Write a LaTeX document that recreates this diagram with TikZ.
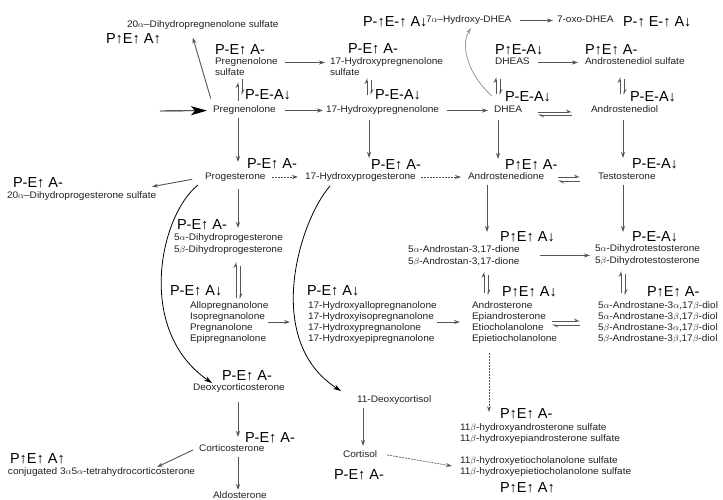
\documentclass[tikz,border=0pt]{standalone}
\usepackage{fontspec}
\setmainfont{Liberation Sans}
\newfontfamily\cmpff[FakeStretch=1.06]{Liberation Sans}
\newfontfamily\labff{Liberation Sans}
\usetikzlibrary{arrows.meta}
\definecolor{txt}{HTML}{222222}
\definecolor{arr}{HTML}{555555}
\definecolor{lightarr}{HTML}{999999}
\newcommand\al{$\alpha$}
\newcommand\be{$\beta$}
\tikzset{
  cmp/.style={font=\cmpff\fontsize{9.5}{11}\selectfont, text=txt, inner sep=0pt, outer sep=0pt, anchor=base west, align=left},
  lab/.style={font=\labff\fontsize{14.5}{16}\selectfont, inner sep=0pt, outer sep=0pt, anchor=base west},
  ar/.style={draw=arr, line width=0.9pt, -{Stealth[length=6pt,width=4pt]}},
  dar/.style={draw=arr, line width=0.7pt, dash pattern=on 2pt off 1pt, -{Stealth[open,length=6pt,width=4pt]}},
  hp/.style={draw=arr, line width=0.8pt, -{Stealth[harpoon,length=5pt,width=5pt]}},
  curv/.style={draw=black, line width=0.8pt, -{Stealth[length=8pt,width=5pt]}},
  bigar/.style={draw=black, line width=0.9pt, -{Stealth[length=16pt,width=9pt,inset=4pt]}},
}
\begin{document}
\begin{tikzpicture}[x=1pt,y=-1pt]
\fill[white] (0,0) rectangle (723,500);
\path[use as bounding box] (0,0) rectangle (723,500);

% multi-line nodes: the base anchor is the baseline of the LAST line
% ---- row 0
\node[cmp] (dhpregs) at (127,28) {20\al–Dihydropregnenolone sulfate};
\node[lab] (Ldhpregs) at (106,44) {P↑E↑ A↑};
\node[lab] (L7oh) at (363,27) {P-↑E-↑ A↓};
\node[cmp] (ohdhea) at (426,23) {7\al–Hydroxy-DHEA};
\node[cmp] (oxo) at (557,23) {7-oxo-DHEA};
\node[lab] (Loxo) at (623,27) {P-↑ E-↑ A↓};
% ---- row 1
\node[lab] (Lpregs) at (215,55) {P-E↑ A-};
\node[cmp] (pregs) at (215,76) {Pregnenolone\\sulfate};
\node[lab] (Lohpregs) at (348,54) {P-E↑ A-};
\node[cmp] (ohpregs) at (330,76) {17-Hydroxypregnenolone\\sulfate};
\node[lab] (Ldheas) at (495,55) {P↑E-A↓};
\node[cmp] (dheas) at (495,65) {DHEAS};
\node[lab] (Ladiols) at (585,55) {P↑E↑ A-};
\node[cmp] (adiols) at (585,65) {Androstenediol sulfate};
% ---- row 2
\node[cmp] (preg) at (213,113) {Pregnenolone};
\node[lab] (Lpreg) at (245,100) {P-E-A↓};
\node[cmp] (ohpreg) at (326,113) {17-Hydroxypregnenolone};
\node[lab] (Lohpreg) at (375,100) {P-E-A↓};
\node[cmp] (dhea) at (494,113) {DHEA};
\node[lab] (Ldhea) at (505,102) {P-E-A↓};
\node[cmp] (adiol) at (591,113) {Androstenediol};
\node[lab] (Ladiol) at (630,102) {P-E-A↓};
% ---- row 3
\node[cmp] (prog) at (205,179) {Progesterone};
\node[lab] (Lprog) at (247,168) {P-E↑ A-};
\node[cmp] (ohprog) at (305,179) {17-Hydroxyprogesterone};
\node[lab] (Lohprog) at (371,169) {P-E↑ A-};
\node[cmp] (andro) at (468,179) {Androstenedione};
\node[lab] (Landro) at (505,170) {P↑E↑ A-};
\node[cmp] (testo) at (598,179) {Testosterone};
\node[lab] (Ltesto) at (632,168) {P-E-A↓};
\node[lab] (Ldhprogs) at (13,187) {P-E↑ A-};
\node[cmp] (dhprogs) at (7,198) {20\al–Dihydroprogesterone sulfate};
% ---- row 4
\node[lab] (Ldhp) at (177,229) {P-E↑ A-};
\node[cmp] (dhp) at (174,252) {5\al-Dihydroprogesterone\\[1pt]5\be-Dihydroprogesterone};
\node[lab] (Ladione) at (500,241) {P↑E↑ A↓};
\node[cmp] (adione) at (408,264) {5\al-Androstan-3,17-dione\\[1pt]5\be-Androstan-3,17-dione};
\node[lab] (Ldht) at (632,241) {P-E-A↓};
\node[cmp] (dht) at (595,263) {5\al-Dihydrotestosterone\\[1pt]5\be-Dihydrotestosterone};
% ---- row 5
\node[lab] (Lallo) at (170,295) {P-E↑ A↓};
\node[cmp] (allo) at (190,341) {Allopregnanolone\\Isopregnanolone\\Pregnanolone\\Epipregnanolone};
\node[lab] (Lohallo) at (307,295) {P-E↑ A↓};
\node[cmp] (ohallo) at (308,341) {17-Hydroxyallopregnanolone\\17-Hydroxyisopregnanolone\\17-Hydroxypregnanolone\\17-Hydroxyepipregnanolone};
\node[lab] (Last) at (502,296) {P↑E↑ A↓};
\node[cmp] (ast) at (472,341) {Androsterone\\Epiandrosterone\\Etiocholanolone\\Epietiocholanolone};
\node[lab] (Ldiol) at (647,296) {P↑E↑ A-};
\node[cmp] (diol) at (598,341) {5\al-Androstane-3\al,17\be-diol\\5\al-Androstane-3\be,17\be-diol\\5\be-Androstane-3\al,17\be-diol\\5\be-Androstane-3\be,17\be-diol};
% ---- row 6
\node[lab] (Ldoc) at (222,380) {P-E↑ A-};
\node[cmp] (doc) at (193,390) {Deoxycorticosterone};
\node[cmp] (ohdoc) at (357,402) {11-Deoxycortisol};
\node[cmp] (cort) at (199,451) {Corticosterone};
\node[lab] (Lcort) at (245,442) {P-E↑ A-};
\node[lab] (Lconj) at (10,463) {P↑E↑ A↑};
\node[cmp] (conj) at (8,474) {conjugated 3\al5\al-tetrahydrocorticosterone};
\node[cmp] (aldo) at (213,498) {Aldosterone};
\node[cmp] (cortisol) at (343,457) {Cortisol};
\node[lab] (Lcortisol) at (334,479) {P-E↑ A-};
\node[lab] (Ls11a) at (500,418) {P↑E↑ A-};
\node[cmp] (s11a) at (460,441) {11\be-hydroxyandrosterone sulfate\\11\be-hydroxyepiandrosterone sulfate};
\node[cmp] (s11b) at (460,474) {11\be-hydroxyetiocholanolone sulfate\\11\be-hydroxyepietiocholanolone sulfate};
\node[lab] (Ls11b) at (500,492) {P↑E↑ A↑};

% ================= connectors
\coordinate (entry) at (160,111);
\draw[bigar, shorten >=6pt] (entry) -- (preg.west);
\draw[ar, shorten <=15pt, shorten >=10pt] (215,0 |- preg.base) -- (190,0 |- dhpregs.base);
\draw[ar, shorten <=7pt, shorten >=5pt] ([yshift=13.5pt]pregs.base east) -- ([yshift=13.5pt]ohpregs.base west);
\draw[ar, shorten <=9pt, shorten >=3pt] ([yshift=2.5pt]preg.base east) -- ([yshift=2.5pt]ohpreg.base west);
\draw[ar, shorten <=8pt, shorten >=6pt] ([yshift=2.5pt]ohpreg.base east) -- ([yshift=2.5pt]dhea.base west);
\draw[ar, shorten <=8pt, shorten >=7pt] ([yshift=2.5pt]dheas.base east) -- ([yshift=2.5pt]adiols.base west);
\draw[ar, shorten <=9pt, shorten >=4pt] ([yshift=2.5pt]ohdhea.base east) -- ([yshift=2.5pt]oxo.base west);
% reversible pairs (top)
\draw[hp, shorten <=12pt, shorten >=6pt] (238,0 |- preg.base) -- (238,0 |- pregs.south);
\draw[hp, shorten <=3pt, shorten >=18pt] (242,0 |- pregs.south) -- (242,0 |- preg.base);
\draw[hp, shorten <=18pt, shorten >=2pt] (367,0 |- ohpreg.base) -- (367,0 |- ohpregs.south);
\draw[hp, shorten <=4pt, shorten >=18pt] (371,0 |- ohpregs.south) -- (371,0 |- ohpreg.base);
\draw[hp, shorten <=19pt, shorten >=12pt] (496,0 |- dhea.base) -- (496,0 |- dheas.base);
\draw[hp, shorten <=14pt, shorten >=18pt] (500,0 |- dheas.base) -- (500,0 |- dhea.base);
\draw[hp, shorten <=19pt, shorten >=12pt] (620,0 |- adiol.base) -- (620,0 |- adiols.base);
\draw[hp, shorten <=14pt, shorten >=18pt] (624,0 |- adiols.base) -- (624,0 |- adiol.base);
% equilibrium DHEA / Androstenediol
\draw[hp, shorten <=16pt, shorten >=19pt] ([yshift=1pt]dhea.base east) -- ([yshift=1pt]adiol.base west);
\draw[hp, shorten <=19pt, shorten >=16pt] ([yshift=-2pt]adiol.base west) -- ([yshift=-2pt]dhea.base east);
% gray curve DHEA -> 7a-OH-DHEA
\draw[draw=lightarr, line width=0.8pt, -{Stealth[length=6pt,width=4pt]}] ([shift={(-2pt,17pt)}]dhea.base west) .. controls (468,75) and (460,45) .. ([shift={(45pt,-5pt)}]ohdhea.base west);
% verticals row 2 -> row 3
\draw[ar, shorten <=5pt, shorten >=6pt] (238,0 |- preg.base) -- (238,0 |- Lprog.base);
\draw[ar, shorten <=7pt, shorten >=11pt] (369,0 |- ohpreg.base) -- (369,0 |- Lohprog.base);
\draw[ar, shorten <=7pt, shorten >=11pt] (498,0 |- dhea.base) -- (498,0 |- Landro.base);
\draw[ar, shorten <=7pt, shorten >=10pt] (623,0 |- adiol.base) -- (623,0 |- Ltesto.base);
% row 3 horizontals
\draw[dar, shorten <=6.5pt, shorten >=7pt] ([yshift=2pt]prog.base east) -- ([yshift=2pt]ohprog.base west);
\draw[dar, shorten <=5pt, shorten >=7pt] ([yshift=2pt]ohprog.base east) -- ([yshift=2pt]andro.base west);
\draw[hp, shorten <=14pt, shorten >=18pt] ([yshift=2pt]andro.base east) -- ([yshift=2pt]testo.base west);
\draw[hp, shorten <=18pt, shorten >=14pt] ([yshift=-2pt]testo.base west) -- ([yshift=-2pt]andro.base east);
\draw[ar, shorten <=13pt, shorten >=2pt] ([yshift=2pt]prog.base west) -- (150,0 |- Ldhprogs.base);
% row 3 -> row 4
\draw[ar, shorten <=10pt, shorten >=1pt] (238,0 |- prog.base) -- (238,0 |- Ldhp.base);
\draw[ar, shorten <=6pt, shorten >=9pt] (487,0 |- andro.base) -- (487,0 |- Ladione.base);
\draw[ar, shorten <=6pt, shorten >=9pt] (623,0 |- testo.base) -- (623,0 |- Ldht.base);
\draw[ar, shorten <=20pt, shorten >=5pt] (adione.east) -- (dht.west |- adione.east);
% row 4 <-> row 5
\draw[hp, shorten <=3pt, shorten >=8pt] (236,0 |- allo.north) -- (236,0 |- dhp.south);
\draw[hp, shorten <=12pt, shorten >=2pt] (240,0 |- dhp.south) -- (240,0 |- allo.north);
\draw[hp, shorten <=8pt, shorten >=6pt] (484,0 |- ast.north) -- (484,0 |- adione.south);
\draw[hp, shorten <=9pt, shorten >=6pt] (488,0 |- adione.south) -- (488,0 |- ast.north);
\draw[hp, shorten <=8pt, shorten >=6pt] (621,0 |- diol.north) -- (621,0 |- dht.south);
\draw[hp, shorten <=9pt, shorten >=6pt] (625,0 |- dht.south) -- (625,0 |- diol.north);
% row 5 horizontals
\draw[ar, shorten >=18pt] (allo.east) -- (ohallo.west |- allo.east);
\draw[ar, shorten >=12pt] (ohallo.east) -- (ast.west |- ohallo.east);
\draw[hp, shorten >=18pt] ([shift={(-5pt,1pt)}]ast.east) -- ([yshift=1pt]diol.west |- ast.east);
\draw[hp, shorten <=18pt] ([yshift=-3pt]diol.west |- ast.east) -- ([shift={(-5pt,-3pt)}]ast.east);
% big curves
\draw[curv] ([shift={(-7pt,-6pt)}]prog.base west) .. controls (160,215) and (135,330) .. ([shift={(19pt,7pt)}]doc.base west);
\draw[curv] ([shift={(25pt,-7pt)}]ohprog.base west) .. controls (300,220) and (262,340) .. ([shift={(-16pt,11pt)}]ohdoc.base west);
% lower part
\draw[ar, shorten <=12pt, shorten >=14pt] (238,0 |- doc.base) -- (238,0 |- cort.base);
\draw[ar, shorten <=6pt, shorten >=8pt] (238,0 |- cort.base) -- (238,0 |- aldo.base);
\draw[ar] ([shift={(-6pt,1pt)}]cort.base west) -- ([shift={(149pt,7pt)}]conj.base west);
\draw[ar, shorten <=6pt, shorten >=11pt] (363,0 |- ohdoc.base) -- (363,0 |- cortisol.base);
\draw[dar] ([shift={(10pt,2pt)}]cortisol.base east) -- ([shift={(-8pt,8pt)}]s11b.base west);
\draw[dar, shorten <=10pt, shorten >=11pt] (489,0 |- ast.south) -- (489,0 |- s11a.north);
\end{tikzpicture}
\end{document}
